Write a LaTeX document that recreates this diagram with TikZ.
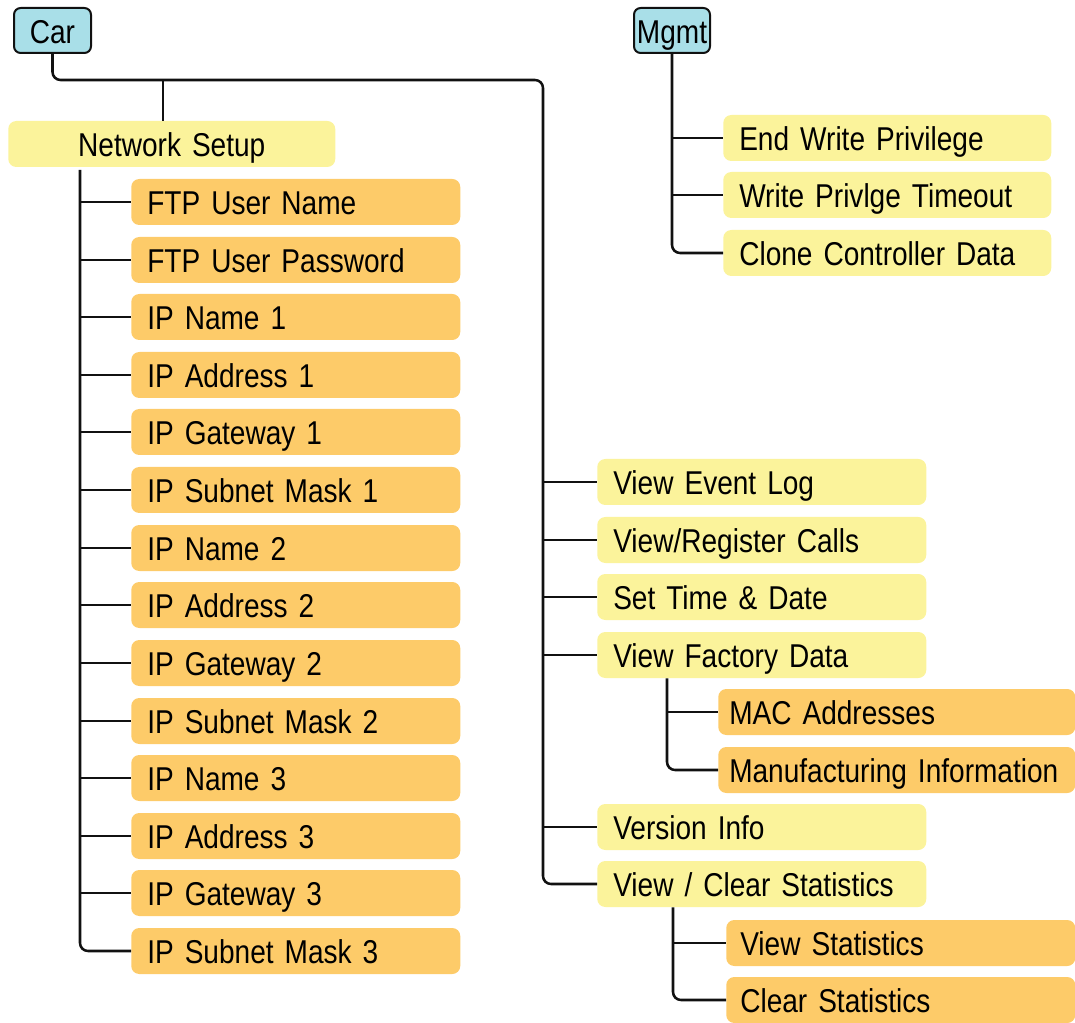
\documentclass[tikz,border=0pt]{standalone}
\usepackage{fontspec}
\setmainfont[FakeStretch=0.85,WordSpace=0.7]{Liberation Sans}
\definecolor{boxblue}{HTML}{A9DFE8}
\definecolor{boxyellow}{HTML}{FBF39B}
\definecolor{boxorange}{HTML}{FDCB69}
\definecolor{linecol}{HTML}{111111}
\tikzset{
  basebox/.style={rounded corners=6pt, inner ysep=0pt, inner xsep=12pt, minimum height=34.5pt,
    anchor=west, align=left, text width=222.75pt, text height=22pt, text depth=2.8pt,
    font=\fontsize{24.75}{28}\selectfont},
  ybox/.style={basebox, fill=boxyellow},
  obox/.style={basebox, fill=boxorange},
  rootbox/.style={rounded corners=5pt, draw=linecol, line width=1.5pt, fill=boxblue,
    minimum height=33.75pt, inner sep=0pt, text height=22pt, text depth=2.8pt,
    font=\fontsize{24.75}{28}\selectfont},
  conn/.style={draw=linecol, line width=1.9pt, rounded corners=6pt},
}
\begin{document}
\begin{tikzpicture}[x=0.75pt,y=-0.75pt]
\useasboundingbox (0,0) rectangle (1075,1023);

% roots
\node[rootbox, minimum width=57.75pt] (car) at (52.5,30.5) {Car};
\node[rootbox, minimum width=57pt] (mgmt) at (672,30.5) {Mgmt};

% Network setup and children
\node[ybox, align=center, text width=221.25pt] (ns) at (8,144) {Network Setup};
\node[obox] (n1) at (131,202) {FTP User Name};
\node[obox] (n2) at (131,260) {FTP User Password};
\node[obox] (n3) at (131,317) {IP Name 1};
\node[obox] (n4) at (131,375) {IP Address 1};
\node[obox] (n5) at (131,432) {IP Gateway 1};
\node[obox] (n6) at (131,490) {IP Subnet Mask 1};
\node[obox] (n7) at (131,548) {IP Name 2};
\node[obox] (n8) at (131,605) {IP Address 2};
\node[obox] (n9) at (131,663) {IP Gateway 2};
\node[obox] (n10) at (131,721) {IP Subnet Mask 2};
\node[obox] (n11) at (131,778) {IP Name 3};
\node[obox] (n12) at (131,836) {IP Address 3};
\node[obox] (n13) at (131,893) {IP Gateway 3};
\node[obox] (n14) at (131,951) {IP Subnet Mask 3};

% right column
\node[ybox] (vel) at (597,482) {View Event Log};
\node[ybox] (vrc) at (597,540) {View/Register Calls};
\node[ybox] (std) at (597,597) {Set Time \& Date};
\node[ybox] (vfd) at (597,655) {View Factory Data};
\node[obox, inner xsep=8.25pt, text width=251.25pt] (mac) at (718,712) {MAC Addresses};
\node[obox, inner xsep=8.25pt, text width=251.25pt] (mi) at (718,770) {Manufacturing Information};
\node[ybox] (vi) at (597,827) {Version Info};
\node[ybox] (vcs) at (597,884) {View / Clear Statistics};
\node[obox, inner xsep=10.5pt, text width=240.75pt] (vs) at (726,943) {View Statistics};
\node[obox, inner xsep=10.5pt, text width=240.75pt] (cs) at (726,1000) {Clear Statistics};

% mgmt children
\node[ybox, text width=222pt] (ew) at (723,138) {End Write Privilege};
\node[ybox, text width=222pt] (wt) at (723,195) {Write Privlge Timeout};
\node[ybox, text width=222pt] (cc) at (723,253) {Clone Controller Data};

% coordinates for trunks
\coordinate (j1) at (543,80);
\coordinate (tapN) at (163,80);
\coordinate (lt) at (80,170);
\coordinate (vt) at (667,0);
\coordinate (st) at (673,0);

% car trunk
\draw[conn] (car.south) |- (j1) |- (vcs.west);
\draw[conn] (tapN) -- (tapN |- ns.north);
\foreach \n in {vel,vrc,std,vfd,vi}{
  \draw[conn] (j1 |- \n.west) -- (\n.west);
}

% network setup trunk
\draw[conn] (lt) |- (n14.west);
\foreach \n in {n1,n2,n3,n4,n5,n6,n7,n8,n9,n10,n11,n12,n13}{
  \draw[conn] (lt |- \n.west) -- (\n.west);
}

% factory data
\draw[conn] (vt |- vfd.south) |- (mi.west);
\draw[conn] (vt |- mac.west) -- (mac.west);

% statistics
\draw[conn] (st |- vcs.south) |- (cs.west);
\draw[conn] (st |- vs.west) -- (vs.west);

% mgmt
\draw[conn] (mgmt.south) |- (cc.west);
\draw[conn] (mgmt.south |- ew.west) -- (ew.west);
\draw[conn] (mgmt.south |- wt.west) -- (wt.west);
\end{tikzpicture}
\end{document}
